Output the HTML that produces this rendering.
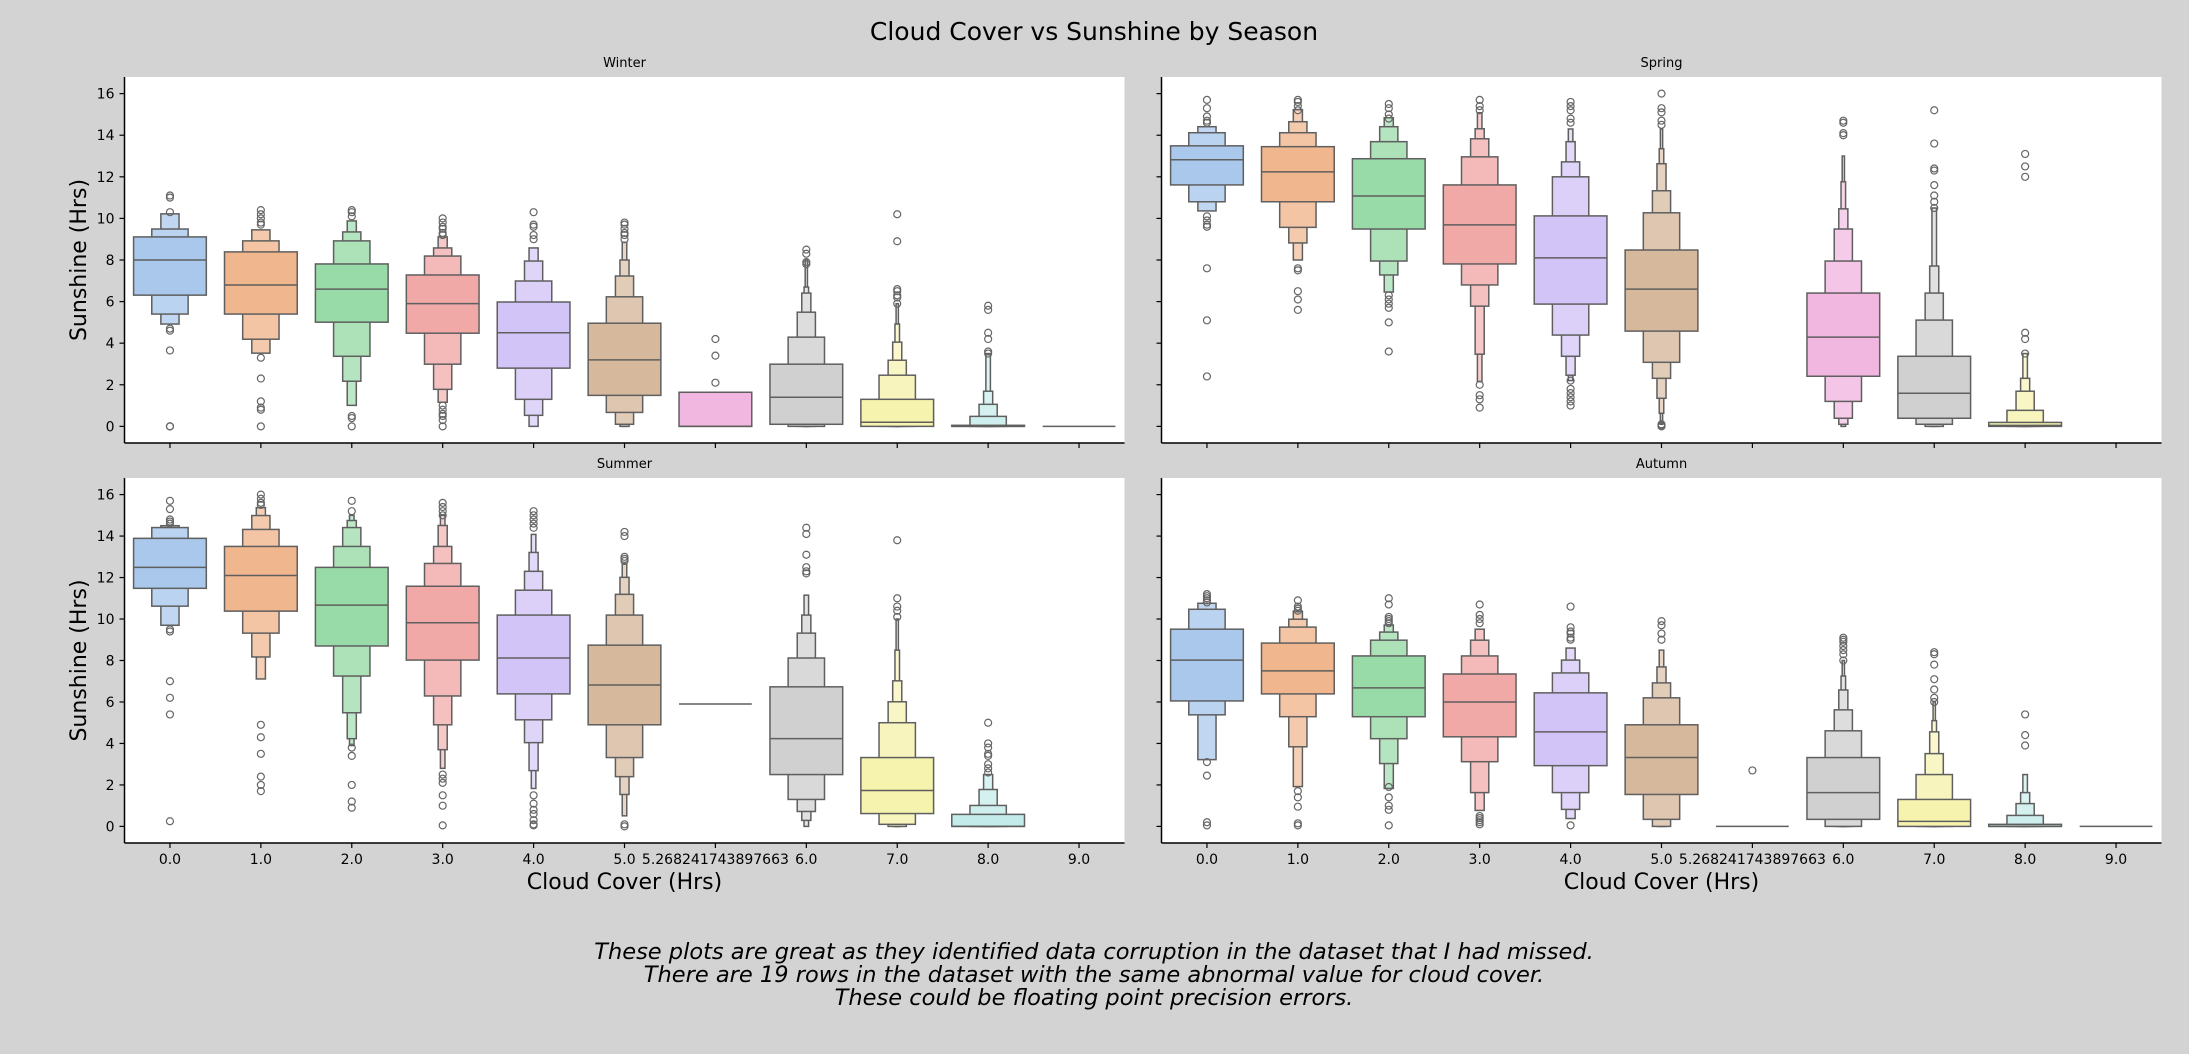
<!DOCTYPE html>
<html><head><meta charset="utf-8"><style>
html,body{margin:0;padding:0;background:#d3d3d3;}
svg{display:block;font-family:"DejaVu Sans","Liberation Sans",sans-serif;}
</style></head><body>
<svg id="fig" width="2189" height="1054" viewBox="0 0 2189 1054" xmlns="http://www.w3.org/2000/svg">
<rect x="0" y="0" width="2189" height="1054" fill="#d3d3d3"/>
<text x="1094" y="40" font-size="25" text-anchor="middle" fill="#000">Cloud Cover vs Sunshine by Season</text>
<g id="panels"></g>
<text x="1094" y="959" font-size="22.5" font-style="italic" text-anchor="middle">These plots are great as they identified data corruption in the dataset that I had missed.</text>
<text x="1094" y="982" font-size="22.5" font-style="italic" text-anchor="middle">There are 19 rows in the dataset with the same abnormal value for cloud cover.</text>
<text x="1094" y="1005" font-size="22.5" font-style="italic" text-anchor="middle">These could be floating point precision errors.</text>
</svg>
<script>
const categories = ["0.0","1.0","2.0","3.0","4.0","5.0","5.268241743897663","6.0","7.0","8.0","9.0"];
const yTicks = [0,2,4,6,8,10,12,14,16];
const seasons = ["Winter","Spring","Summer","Autumn"];

const winterLevels = [
 [[6.31,9.11],[5.40,9.49],[4.92,10.22]],
 [[5.40,8.39],[4.19,8.92],[3.52,9.45]],
 [[5.01,7.81],[3.37,8.92],[2.17,9.35],[1.01,9.88]],
 [[4.48,7.28],[2.99,8.19],[1.78,8.58],[1.16,9.11]],
 [[2.80,5.98],[1.30,6.99],[0.53,7.95],[0,8.58]],
 [[1.49,4.96],[0.67,6.23],[0.10,7.23],[0,8.0],[0,8.85]],
 [[0,1.64]],
 [[0.10,2.99],[0,4.29],[0,5.49],[0,6.41],[0,6.7],[0,8.0]],
 [[0,1.30],[0,2.46],[0,3.18],[0,4.05],[0,4.92],[0,5.9]],
 [[0,0.05],[0,0.48],[0,1.06],[0,1.69],[0,3.5]],
 [[0,0]]
];
const winterMedians = [8.0,6.8,6.6,5.9,4.5,3.2,0,1.4,0.2,0,0];
const winterOutliers = [
 [11.1,11.0,10.3,4.7,4.6,3.65,0,0],
 [10.4,10.2,10.0,9.8,9.7,3.3,2.3,1.2,0.9,0.8,0],
 [10.4,10.3,10.1,0.5,0.4,0],
 [10.0,9.8,9.6,9.5,9.3,9.2,1.0,0.8,0.6,0.5,0.3,0],
 [10.3,9.7,9.6,9.2,9.0],
 [9.8,9.7,9.5,9.3,9.2,9.0],
 [4.2,3.4,2.1],
 [8.5,8.3,7.9,7.8],
 [10.2,8.9,6.6,6.5,6.3,6.2,5.9],
 [5.8,5.6,4.5,4.2,3.6,3.5],
 []
];

const springLevels = [
 [[11.61,13.49],[10.80,14.12],[10.36,14.41]],
 [[10.80,13.45],[9.57,14.12],[8.82,14.65],[8.0,15.23]],
 [[9.49,12.87],[7.95,13.69],[7.28,14.41],[6.46,14.84]],
 [[7.81,11.61],[6.80,12.96],[5.78,13.83],[3.47,14.31],[2.15,15.08]],
 [[5.88,10.12],[4.39,12.0],[3.37,12.72],[2.46,13.69],[2.2,14.3]],
 [[4.58,8.48],[3.08,10.27],[2.31,11.33],[1.35,12.63],[0.63,13.35],[0.1,14.3]],
 [],
 [[2.41,6.41],[1.20,7.95],[0.39,9.49],[0.10,10.46],[0,11.76],[0,13.0]],
 [[0.39,3.37],[0.10,5.11],[0,6.41],[0,7.71],[0,10.5]],
 [[0,0.19],[0,0.77],[0,1.69],[0,2.31],[0,3.5]],
 []
];
const springMedians = [12.82,12.24,11.08,9.69,8.10,6.60,null,4.29,1.59,0.05,null];
const springOutliers = [
 [15.7,15.3,14.9,14.7,14.6,10.1,9.9,9.7,9.6,7.6,5.1,2.4],
 [15.7,15.6,15.4,15.2,7.6,7.5,6.5,6.1,5.6],
 [15.5,15.3,15.0,14.8,6.3,6.1,5.9,5.7,5.0,3.6],
 [15.7,15.4,15.2,2.0,1.5,1.3,0.9],
 [15.6,15.4,15.2,14.8,14.6,2.2,1.8,1.6,1.4,1.2,1.0],
 [16.0,15.3,15.1,14.7,14.5,0.1,0.05,0],
 [],
 [14.7,14.6,14.1,14.0],
 [15.2,13.6,12.4,12.3,11.6,11.1,10.8,10.5],
 [13.1,12.5,12.0,4.5,4.2,3.5],
 []
];

const summerLevels = [
 [[11.48,13.89],[10.62,14.41],[9.70,14.5]],
 [[10.38,13.5],[9.32,14.32],[8.17,14.99],[7.11,15.37]],
 [[8.70,12.49],[7.25,13.5],[5.48,14.41],[4.23,14.75],[3.9,15.0]],
 [[8.02,11.58],[6.29,12.68],[4.90,13.5],[3.70,14.51],[2.8,15.0]],
 [[6.39,10.19],[5.14,11.39],[4.04,12.30],[2.69,13.21],[1.83,14.08]],
 [[4.90,8.74],[3.32,10.19],[2.40,11.19],[1.54,12.01],[0.51,12.68]],
 [[5.9,5.9]],
 [[2.50,6.73],[1.30,8.12],[0.72,9.32],[0.29,10.19],[0,11.15]],
 [[0.62,3.32],[0.10,5.0],[0,6.01],[0,7.02],[0,8.5],[0,10.0]],
 [[0,0.58],[0,1.01],[0,1.78],[0,2.50]],
 []
];
const summerMedians = [12.49,12.1,10.67,9.82,8.12,6.82,5.9,4.23,1.73,0,null];
const summerOutliers = [
 [15.7,15.3,14.8,14.7,14.6,9.5,9.4,7.0,6.2,5.4,0.25],
 [16.0,15.8,15.6,15.5,4.9,4.3,3.5,2.4,2.0,1.7],
 [15.7,15.2,3.8,3.4,2.0,1.2,0.9],
 [15.6,15.4,15.2,15.0,2.5,2.3,2.1,1.5,1.0,0.05],
 [15.2,15.0,14.8,14.6,14.4,1.5,1.1,0.8,0.6,0.3,0.1,0.05],
 [14.2,14.0,13.0,12.9,12.8,0.1,0],
 [],
 [14.4,14.1,13.1,12.5,12.3,12.2],
 [13.8,11.0,10.6,10.4,10.1],
 [5.0,4.0,3.8,3.5,3.4,3.0,2.8,2.6],
 []
];

const autumnLevels = [
 [[6.05,9.51],[5.38,10.47],[3.22,10.76]],
 [[6.39,8.84],[5.29,9.61],[3.84,9.99],[1.92,10.38]],
 [[5.29,8.22],[4.23,8.98],[3.03,9.37],[1.83,9.71]],
 [[4.32,7.35],[3.12,8.22],[1.63,8.98],[0.77,9.51]],
 [[2.93,6.44],[1.63,7.40],[0.82,8.02],[0.38,8.6]],
 [[1.54,4.90],[0.34,6.20],[0,6.92],[0,7.69],[0,8.5]],
 [[0,0]],
 [[0.34,3.32],[0,4.61],[0,5.62],[0,6.58],[0,7.25],[0,8.0]],
 [[0,1.30],[0,2.50],[0,3.51],[0,4.56],[0,5.1],[0,6.0]],
 [[0,0.1],[0,0.53],[0,1.1],[0,1.63],[0,2.5]],
 [[0,0]]
];
const autumnMedians = [8.02,7.50,6.68,6.0,4.56,3.32,0,1.63,0.24,0,0];
const autumnOutliers = [
 [11.2,11.1,11.0,10.9,10.8,3.1,2.45,0.2,0.05],
 [10.9,10.6,10.5,10.4,1.7,1.4,0.95,0.15,0.05],
 [11.0,10.7,10.1,10.0,9.9,9.8,1.9,1.4,1.0,0.8,0.05],
 [10.7,10.2,10.0,9.8,0.5,0.4,0.3,0.2,0.1],
 [10.6,9.6,9.4,9.3,9.1,9.0,0.05],
 [9.9,9.7,9.3,9.0],
 [2.7],
 [9.1,9.0,8.9,8.7,8.5,8.3,8.0],
 [8.4,8.3,7.8,7.1,6.6,6.2,6.0],
 [5.4,4.4,3.9],
 []
];

const palette = ["#a9c8ec","#f0b68d","#98dba8","#f1a9a8","#d3c4f7","#d6b89c","#f1b7e0","#d0d0d0","#f5f3ad","#c3ebea","#a9c8ec"];
const edge = "#5f5f5f";
const NS = "http://www.w3.org/2000/svg";

function lighten(hex, t){
  const n = parseInt(hex.slice(1),16);
  const r=(n>>16)&255,g=(n>>8)&255,b=n&255;
  const f=c=>Math.round(c+(255-c)*t);
  return "rgb("+f(r)+","+f(g)+","+f(b)+")";
}
function mk(tag, attrs, parent){
  const e=document.createElementNS(NS,tag);
  for(const k in attrs) e.setAttribute(k,attrs[k]);
  parent.appendChild(e); return e;
}

const panelDefs = [
 {title:"Winter", levels:winterLevels, med:winterMedians, out:winterOutliers, x0:124.5, x1:1124.5, y0:77, y1:443, ylab:true, xlab:false},
 {title:"Spring", levels:springLevels, med:springMedians, out:springOutliers, x0:1161.5, x1:2161.5, y0:77, y1:443, ylab:false, xlab:false},
 {title:"Summer", levels:summerLevels, med:summerMedians, out:summerOutliers, x0:124.5, x1:1124.5, y0:478, y1:843, ylab:true, xlab:true},
 {title:"Autumn", levels:autumnLevels, med:autumnMedians, out:autumnOutliers, x0:1161.5, x1:2161.5, y0:478, y1:843, ylab:false, xlab:true}
];
const yMin=-0.8, yMax=16.8;
const root=document.getElementById("panels");

panelDefs.forEach(p=>{
  const slug=p.title.toLowerCase();
  const g=mk("g",{},root);
  
  
  const band=(p.x1-p.x0)/categories.length;
  const xS=i=>p.x0+band*(i+0.5);
  const yS=v=>p.y1-(v-yMin)/(yMax-yMin)*(p.y1-p.y0);
  // colour index: palette follows present categories in order
  let ci=-1; const colIdx=[];
  categories.forEach((c,i)=>{ if((p.levels[i]&&p.levels[i].length)||(p.out[i]&&p.out[i].length)||i<6||i===6){ } });
  let cnt=0;
  categories.forEach((c,i)=>{ const present=(p.levels[i]&&p.levels[i].length)>0; colIdx.push(present?cnt:cnt); if(present||i===10) cnt++; });
  const bg=mk("rect",{x:p.x0,y:p.y0,width:p.x1-p.x0,height:p.y1-p.y0,fill:"#fff"},g);
  
  
  const t=mk("text",{x:(p.x0+p.x1)/2,y:p.y0-10,"font-size":13,"text-anchor":"middle"},g);
  t.textContent=p.title;
  
  

  categories.forEach((c,i)=>{
    const lv=p.levels[i]; if(!lv||!lv.length) return;
    const cg=mk("g",{},g);
    
    
    const cx=xS(i);
    const base=palette[colIdx[i]%palette.length];
    if(lv.length===1 && lv[0][0]===lv[0][1]){
      const w=band*0.8;
      const ln=mk("line",{x1:cx-w/2,x2:cx+w/2,y1:yS(lv[0][0]),y2:yS(lv[0][0]),stroke:edge,"stroke-width":1.5},cg);
      
      
    } else {
      for(let k=lv.length-1;k>=0;k--){
        const w=band*0.8*Math.pow(0.5,k);
        const fill=k===0?base:lighten(base,Math.min(0.2+0.08*(k-1),0.6));
        const top=yS(lv[k][1]), bot=yS(lv[k][0]);
        const r=mk("rect",{x:cx-w/2,y:top,width:w,height:Math.max(bot-top,0.5),fill:fill,stroke:edge,"stroke-width":1.5},cg);
        
        
      }
      const m=p.med[i];
      if(m!==null&&m!==undefined){
        const w=band*0.8;
        const ml=mk("line",{x1:cx-w/2,x2:cx+w/2,y1:yS(m),y2:yS(m),stroke:edge,"stroke-width":1.5},cg);
        
        
      }
    }
    (p.out[i]||[]).forEach(v=>{
      const o=mk("circle",{cx:cx,cy:yS(v),r:3.5,fill:"none",stroke:"#666","stroke-width":1.2},cg);
      
      
    });
  });
  categories.forEach((c,i)=>{
    if(p.levels[i]&&p.levels[i].length) return;
    (p.out[i]||[]).forEach(v=>{
      const o=mk("circle",{cx:xS(i),cy:yS(v),r:3.5,fill:"none",stroke:"#666","stroke-width":1.2},g);
      
      
    });
  });

  const ls=mk("line",{x1:p.x0,x2:p.x0,y1:p.y0,y2:p.y1,stroke:"#000","stroke-width":1.5},g);
  
  
  const bs=mk("line",{x1:p.x0,x2:p.x1,y1:p.y1,y2:p.y1,stroke:"#000","stroke-width":1.5},g);
  
  
  yTicks.forEach(v=>{
    const tk=mk("line",{x1:p.x0-5,x2:p.x0,y1:yS(v),y2:yS(v),stroke:"#000","stroke-width":1.2},g);
    
    
    if(p.ylab){
      const tl=mk("text",{x:p.x0-10,y:yS(v)+5,"font-size":14,"text-anchor":"end"},g);
      tl.textContent=v;
      
      
    }
  });
  categories.forEach((c,i)=>{
    const tk=mk("line",{x1:xS(i),x2:xS(i),y1:p.y1,y2:p.y1+5,stroke:"#000","stroke-width":1.2},g);
    
    
    if(p.xlab){
      const tl=mk("text",{x:xS(i),y:p.y1+21,"font-size":14,"text-anchor":"middle"},g);
      tl.textContent=c;
      
      
    }
  });
  if(p.ylab){
    const cy=(p.y0+p.y1)/2;
    const yl=mk("text",{x:80,y:cy,"font-size":22,"text-anchor":"middle",transform:"rotate(-90 80 "+cy+")","dominant-baseline":"middle"},g);
    yl.textContent="Sunshine (Hrs)";
    
    
  }
  if(p.xlab){
    const xl=mk("text",{x:(p.x0+p.x1)/2,y:p.y1+46,"font-size":22,"text-anchor":"middle"},g);
    xl.textContent="Cloud Cover (Hrs)";
    
    
  }
});
</script>
</body></html>
